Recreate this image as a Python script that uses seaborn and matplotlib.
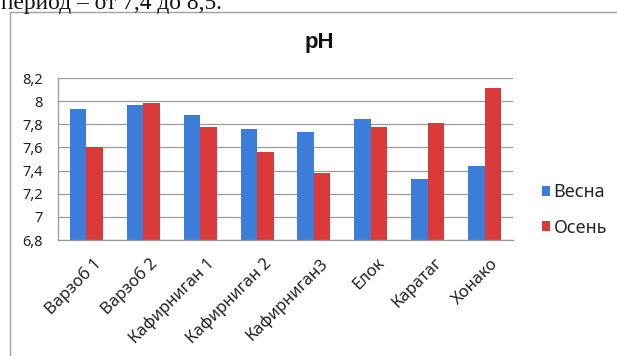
import pandas as pd
import matplotlib.pyplot as plt
import matplotlib.transforms as mtransforms
import seaborn as sns
from matplotlib.patches import Rectangle
from matplotlib.ticker import FixedLocator, FixedFormatter

# pH values
stations = ["Варзоб 1", "Варзоб 2", "Кафирниган 1", "Кафирниган 2",
            "Кафирниган3", "Елок", "Каратаг", "Хонако"]
spring = [7.93, 7.97, 7.88, 7.76, 7.73, 7.85, 7.33, 7.44]
autumn = [7.60, 7.98, 7.78, 7.56, 7.38, 7.78, 7.81, 8.11]
seasons = ["Весна", "Осень"]
y_ticks = [6.8, 7.0, 7.2, 7.4, 7.6, 7.8, 8.0, 8.2]
y_tick_labels = ["6,8", "7", "7,2", "7,4", "7,6", "7,8", "8", "8,2"]
caption = "период – от 7,4 до 8,5."

df = pd.DataFrame({
    "station": stations * 2,
    "season": [seasons[0]] * len(stations) + [seasons[1]] * len(stations),
    "ph": spring + autumn,
})

sns.set_style("white")
plt.rcParams["font.family"] = ["Noto Sans", "DejaVu Sans"]

W, H = 617, 356
fig = plt.figure(figsize=(W / 100, H / 100), dpi=100)
ax = fig.add_axes([58 / W, 1 - 240 / H, (513 - 58) / W, (240 - 78) / H])

grey = "#9a9a9a"
sns.barplot(
    data=df, x="station", y="ph", hue="season", order=stations,
    hue_order=seasons, palette=["#3b7dd8", "#db3a3b"], width=0.58,
    gap=0, saturation=1, edgecolor="none", ax=ax, legend=True,
)

ax.set_ylim(6.8, 8.2)
ax.set_xlim(-0.5, len(stations) - 0.5)
ax.yaxis.set_major_locator(FixedLocator(y_ticks))
ax.yaxis.set_major_formatter(FixedFormatter(y_tick_labels))
ax.set_axisbelow(True)
ax.grid(axis="y", color=grey, linewidth=0.9)
ax.set(xlabel="", ylabel="")

for side in ["top", "right"]:
    ax.spines[side].set_visible(False)
for side in ["left", "bottom"]:
    ax.spines[side].set_color(grey)
    ax.spines[side].set_linewidth(0.9)

ax.tick_params(axis="y", length=5, color=grey, width=0.9, labelsize=10.5,
               labelcolor="#222222", pad=6)
ax.tick_params(axis="x", which="major", length=0, labelsize=12,
               labelcolor="#222222", pad=11)
ax.set_xticks([i - 0.5 for i in range(len(stations) + 1)], minor=True)
ax.tick_params(axis="x", which="minor", length=5, color=grey, width=0.9)
shift = mtransforms.ScaledTranslation(0.06, 0, fig.dpi_scale_trans)
for lab in ax.get_xticklabels():
    lab.set_rotation(45)
    lab.set_ha("right")
    lab.set_va("top")
    lab.set_rotation_mode("anchor")
    lab.set_transform(lab.get_transform() + shift)

fig.text(319 / W, 1 - 48 / H, "pH", fontsize=16, fontweight="bold",
         family=["Liberation Sans", "DejaVu Sans"], ha="center",
         va="baseline", color="#111111")

handles, labels = ax.get_legend_handles_labels()
ax.legend(
    handles, labels, loc="center left", bbox_to_anchor=(542 / W, 1 - 210 / H),
    bbox_transform=fig.transFigure, frameon=False, fontsize=13,
    handlelength=0.45, handleheight=0.45, handletextpad=0.2,
    labelspacing=0.95, borderpad=0, borderaxespad=0,
)

# document frame around the chart and the clipped text line above it
fig.patches.append(Rectangle((10 / W, -0.2), 1.0, 1 - 12 / H + 0.2,
                             transform=fig.transFigure, fill=False,
                             edgecolor="#a0a0a0", linewidth=1.0))
fig.text(1 / W, 1 - 8.5 / H, caption, fontsize=16.8, va="baseline",
         family=["Liberation Serif", "DejaVu Serif"], color="#111111")

fig.savefig("out.png", dpi=100)
